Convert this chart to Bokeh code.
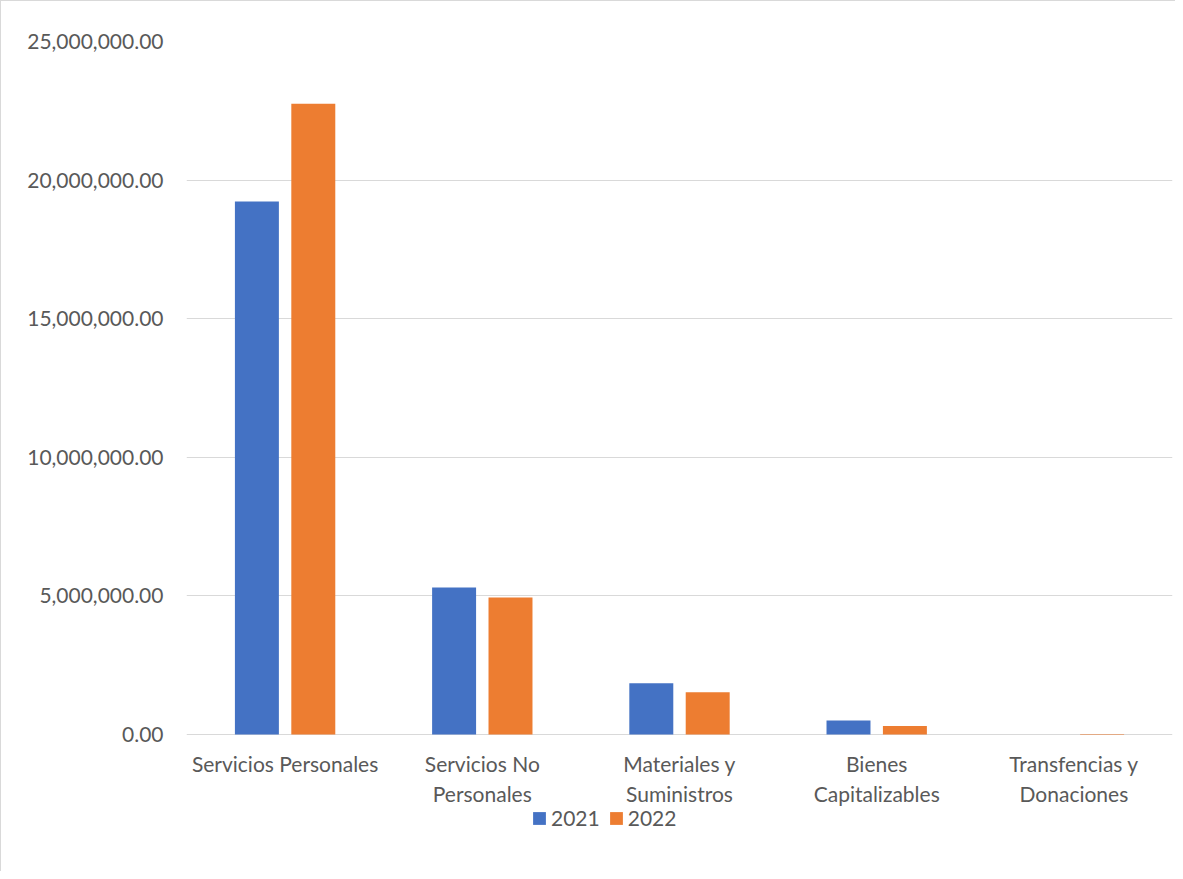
from bokeh.plotting import figure
from bokeh.models import ColumnDataSource, FactorRange, NumeralTickFormatter, FixedTicker, Legend, LegendItem
from bokeh.transform import dodge
from bokeh.core.properties import value
from bokeh.embed import file_html
from bokeh.resources import INLINE

categories = ["Servicios Personales", "Servicios No\nPersonales", "Materiales y\nSuministros",
              "Bienes\nCapitalizables", "Transfencias y\nDonaciones"]
values_2021 = [19230000, 5300000, 1850000, 505000, 0]
values_2022 = [22750000, 4940000, 1520000, 310000, 20000]
y_ticks = [0, 5000000, 10000000, 15000000, 20000000, 25000000]
y_max = 25000000

FONT = "Lato"
TXT = "#595959"
GRID = "#d9d9d9"
BLUE = "#4472C4"
ORANGE = "#ED7D31"

# layout (pixels)
W, H = 1175, 871
top_px, zero_px, left_px, right_px = 40, 733, 185, 1171
y_min = -(H - zero_px) * y_max / (zero_px - top_px)

src = ColumnDataSource(dict(cat=categories, v21=values_2021, v22=values_2022,
                            base=[0] * len(categories)))

p = figure(width=W, height=H, output_backend="svg", toolbar_location=None,
           x_range=FactorRange(*categories), y_range=(y_min, y_max),
           min_border_left=left_px, min_border_right=W - right_px,
           min_border_top=top_px, min_border_bottom=0)
p.styles = {"border-left": "1px solid #d9d9d9", "border-top": "1px solid #d9d9d9"}

r1 = p.vbar(x=dodge("cat", -0.143, range=p.x_range), top="v21", width=0.223, source=src,
            fill_color=BLUE, line_color=None)
r2 = p.vbar(x=dodge("cat", 0.143, range=p.x_range), top="v22", width=0.223, source=src,
            fill_color=ORANGE, line_color=None)

# category labels under the zero line
p.text(x="cat", y="base", text="cat", source=src, text_align="center", text_baseline="top",
       y_offset=16, text_font=value(FONT), text_font_size="21px", text_color=TXT,
       text_line_height=1.23)

p.outline_line_color = None
p.xgrid.grid_line_color = None
p.ygrid.grid_line_color = GRID
p.ygrid.grid_line_width = 1
p.xaxis.visible = False

p.yaxis.ticker = FixedTicker(ticks=y_ticks)
p.yaxis.formatter = NumeralTickFormatter(format="0,0.00")
p.yaxis.axis_line_color = None
p.yaxis.major_tick_line_color = None
p.yaxis.minor_tick_line_color = None
p.yaxis.major_label_standoff = 17
p.yaxis.major_label_text_font = FONT
p.yaxis.major_label_text_font_size = "21px"
p.yaxis.major_label_text_color = TXT

legend = Legend(items=[LegendItem(label="2021", renderers=[r1]), LegendItem(label="2022", renderers=[r2])],
                orientation="horizontal", location=(345, 42),
                padding=0, margin=0, spacing=8, label_standoff=4,
                glyph_width=16, glyph_height=16,
                label_text_font=FONT, label_text_font_size="21px", label_text_color=TXT,
                border_line_color=None, background_fill_alpha=0)
p.add_layout(legend, "center")

open("out.html", "w").write(file_html(p, INLINE))
